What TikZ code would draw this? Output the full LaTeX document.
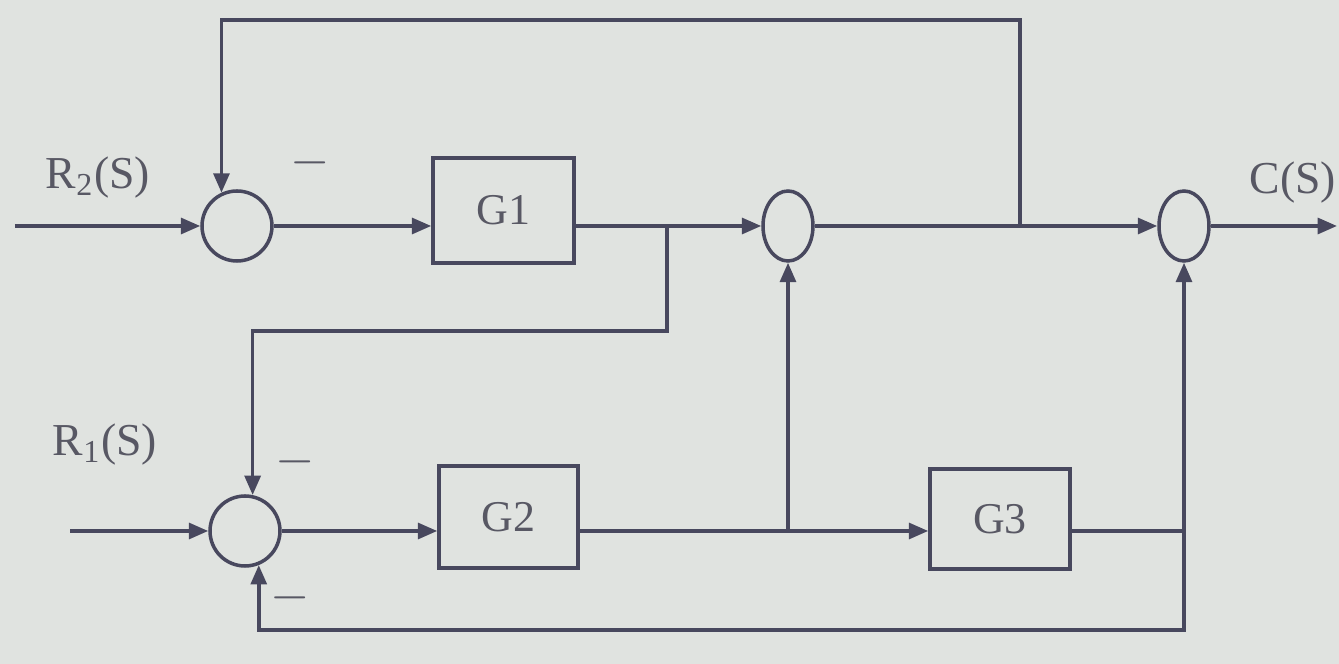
\documentclass[tikz,border=0pt]{standalone}
\usepackage{fontspec}
\setmainfont{Liberation Serif}
\usetikzlibrary{shapes.geometric, arrows.meta}
\definecolor{paper}{RGB}{224, 227, 224}
\definecolor{ink}{RGB}{72, 72, 94}
\definecolor{softink}{RGB}{88, 88, 100}

\begin{document}
\begin{tikzpicture}[
	>={Triangle[length=5.5pt, width=4.5pt]},
	line width=1pt,
	% Styles for the blocks and junctions
	blockbox/.style={draw=ink, line width=1pt, rectangle, inner sep=0pt},
	sumcircle/.style={draw=ink, line width=1pt, circle, inner sep=0pt, minimum size=0.70cm},
	sumellipse/.style={draw=ink, line width=1pt, ellipse, inner sep=0pt, minimum width=0.50cm, minimum height=0.70cm},
	% Styles for text
	siglabel/.style={text=softink, font=\fontsize{13}{15}\selectfont},
	blocktext/.style={text=softink, font=\fontsize{12.5}{15}\selectfont},
	signlabel/.style={text=softink, font=\Large}
	]
	
	% NOTE: 1 px of the reference is 0.01 cm, y measured from the bottom.
	\fill[paper] (0, 0) rectangle (13.39, 6.64);
	\useasboundingbox (0, 0) rectangle (13.39, 6.64);
	
	% ==========================================
	% JUNCTIONS
	% ==========================================
	\node[sumcircle] (sumA) at (2.37, 4.38) {};
	\node[sumellipse] (sumB) at (7.88, 4.38) {};
	\node[sumellipse] (sumC) at (11.84, 4.38) {};
	\node[sumcircle] (sumD) at (2.45, 1.33) {};
	
	% ==========================================
	% BLOCKS
	% ==========================================
	\node[blockbox, minimum width=1.41cm, minimum height=1.05cm, blocktext] (gone) at (5.035, 4.535) {G1};
	\node[blockbox, minimum width=1.39cm, minimum height=1.02cm, blocktext] (gtwo) at (5.085, 1.47) {G2};
	\node[blockbox, minimum width=1.40cm, minimum height=1.00cm, blocktext] (gthree) at (10.00, 1.45) {G3};
	
	% ==========================================
	% SIGNALS AND SIGNS
	% ==========================================
	\node[siglabel] (rtwo) at (0.98, 4.86) {R\textsubscript{2}(S)};
	\node[siglabel] (rone) at (1.05, 2.19) {R\textsubscript{1}(S)};
	\node[siglabel] (cout) at (12.93, 4.81) {C(S)};
	
	\node[signlabel] (minA) at (3.10, 5.01) {$-$};
	\node[signlabel] (minD) at (2.95, 2.02) {$-$};
	\node[signlabel] (minE) at (2.90, 0.66) {$-$};
	
	% Free ends and branch points
	\coordinate (inA) at (0.15, 4.38);
	\coordinate (inD) at (0.70, 1.33);
	\coordinate (outC) at (13.37, 4.38);
	\coordinate (brA) at (6.67, 4.38);
	\coordinate (brB) at (10.20, 4.38);
	\coordinate (brC) at (7.88, 1.33);
	\coordinate (brD) at (11.84, 1.33);
	\coordinate (topR) at (10.20, 6.44);
	\coordinate (midR) at (6.67, 3.33);
	\coordinate (botR) at (11.84, 0.34);
	
	% ==========================================
	% FORWARD PATHS
	% ==========================================
	\draw[->, ink] (inA) -- (sumA.west);
	\draw[->, ink] (sumA.east) -- (sumA.east -| gone.west);
	\draw[->, ink] (sumA.east -| gone.east) -- (sumB.west);
	\draw[->, ink] (sumB.east) -- (sumC.west);
	\draw[->, ink] (sumC.east) -- (outC);
	
	\draw[->, ink] (inD) -- (sumD.west);
	\draw[->, ink] (sumD.east) -- (sumD.east -| gtwo.west);
	\draw[->, ink] (sumD.east -| gtwo.east) -- (sumD.east -| gthree.west);
	\draw[->, ink] (brC) -- (sumB.south);
	\draw[ink] (sumD.east -| gthree.east) -- (brD);
	\draw[->, ink] (brD) -- (sumC.south);
	
	% ==========================================
	% FEEDBACK PATHS
	% ==========================================
	\draw[->, ink] (brB) -- (topR) -- (topR -| sumA.115) -- (sumA.115);
	\draw[->, ink] (brA) -- (midR) -- (midR -| sumD.78) -- (sumD.78);
	\draw[->, ink] (brD) -- (botR) -- (botR -| sumD.-68) -- (sumD.-68);
	
\end{tikzpicture}
\end{document}
